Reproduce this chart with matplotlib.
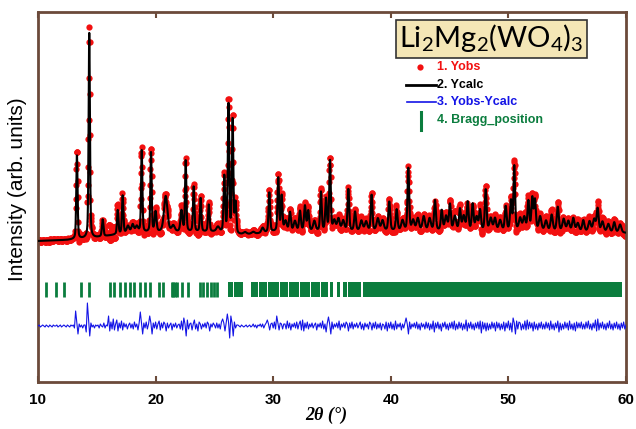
import numpy as np
import matplotlib.pyplot as plt
from matplotlib.lines import Line2D
from matplotlib.patches import Rectangle

plt.rcParams['mathtext.fontset'] = 'custom'
plt.rcParams['mathtext.rm'] = 'Lato'

# reflections of the calculated pattern: position (deg), height (counts), fwhm (deg)
peak_pos = [13.31, 14.36, 15.50, 16.78, 17.20, 17.65, 18.05, 18.40, 18.82, 19.61,
            20.00, 20.86, 21.50, 22.20, 22.56, 23.24, 23.83, 24.52, 25.30, 25.84,
            26.20, 26.55, 26.80, 27.60, 28.30, 29.10, 29.67, 30.43, 30.72, 31.05,
            31.43, 31.85, 32.28, 32.70, 32.98, 33.50, 34.06, 34.49, 34.83, 35.20,
            35.55, 35.95, 36.39, 36.96, 37.50, 37.90, 38.37, 38.90, 39.30, 39.87,
            40.50, 41.00, 41.49, 41.90, 42.30, 42.80, 43.30, 43.76, 44.33, 44.70,
            45.03, 45.45, 45.88, 46.20, 46.54, 46.96, 47.30, 47.59, 48.07, 48.50,
            48.86, 49.30, 49.77, 50.22, 50.50, 51.00, 51.35, 51.70, 52.03, 52.26,
            52.70, 53.20, 53.68, 54.20, 54.70, 55.10, 55.52, 55.90, 56.37, 56.90,
            57.30, 57.59, 58.00, 58.50, 59.00, 59.50]
peak_height = [1700, 4100, 340, 480, 760, 140, 160, 120, 1640, 1620,
               400, 720, 120, 420, 1420, 900, 680, 540, 100, 1120,
               2560, 2300, 600, 40, 40, 100, 800, 1080, 700, 200,
               380, 200, 400, 500, 400, 200, 780, 640, 1420, 200,
               240, 200, 840, 380, 200, 180, 720, 240, 200, 580,
               420, 200, 1260, 200, 240, 280, 240, 600, 400, 280,
               520, 280, 420, 280, 560, 520, 260, 400, 820, 240,
               240, 200, 480, 580, 1280, 240, 260, 580, 640, 600,
               280, 200, 320, 480, 240, 200, 260, 160, 220, 200,
               240, 460, 200, 160, 200, 160]
peak_fwhm = [0.13, 0.13, 0.15, 0.14, 0.14, 0.25, 0.25, 0.25, 0.13, 0.13,
             0.18, 0.35, 0.30, 0.20, 0.13, 0.14, 0.14, 0.15, 0.30, 0.15,
             0.14, 0.14, 0.15, 0.30, 0.30, 0.25, 0.15, 0.15, 0.15, 0.25,
             0.18, 0.25, 0.18, 0.18, 0.18, 0.25, 0.16, 0.16, 0.15, 0.25,
             0.25, 0.25, 0.16, 0.18, 0.25, 0.25, 0.16, 0.25, 0.25, 0.18,
             0.18, 0.25, 0.16, 0.25, 0.25, 0.25, 0.25, 0.18, 0.18, 0.25,
             0.18, 0.25, 0.18, 0.25, 0.18, 0.18, 0.25, 0.18, 0.17, 0.25,
             0.22, 0.25, 0.18, 0.18, 0.16, 0.25, 0.25, 0.18, 0.18, 0.18,
             0.25, 0.25, 0.22, 0.20, 0.25, 0.25, 0.22, 0.25, 0.22, 0.25,
             0.25, 0.20, 0.25, 0.25, 0.22, 0.25]

# background knots (deg, counts)
bg_2theta = [10, 12.5, 15, 16.5, 18, 20, 25, 26.9, 28.5, 30, 40, 50, 57, 60]
bg_counts = [80, 100, 150, 200, 240, 250, 260, 200, 220, 260, 280, 280, 260, 240]

# Yobs - Ycalc, one value every 0.1 deg from 10.0 to 60.0
diff_counts = [
    0, 20, -20, 0, 20, 0, -20, 20, 0, -20,                # 10
    20, 0, -20, 20, 0, 0, 20, -20, 0, 20,                 # 11
    -20, 0, 20, 0, -20, 20, 0, -20, 20, 0,                # 12
    20, -40, 300, 60, -160, 40, -20, 20, -40, 20,         # 13
    20, -120, 460, 120, -200, 60, -20, 20, -40, 20,       # 14
    0, 20, -40, 40, 0, -20, 60, -40, 20, 0,               # 15
    200, -100, 80, -60, 140, -80, 40, 120, -100, 60,      # 16
    -40, 100, -80, 60, -20, 40, -60, 20, 60, -40,         # 17
    40, -60, 80, -20, 40, -80, 60, 280, 60, -160,         # 18
    60, -40, 80, -60, 40, 200, 60, -160, 60, -40,         # 19
    80, -60, 40, 100, -80, 60, -40, 80, 40, -100,         # 20
    60, -40, 20, 60, -80, 40, -20, 60, -40, 20,           # 21
    40, -60, 100, -80, 160, 40, -200, 120, -60, 40,       # 22
    60, -80, 40, 120, -60, 40, -100, 80, 40, -60,         # 23
    40, -20, 60, -40, 80, 40, -100, 40, -20, 60,          # 24
    20, -40, 60, -40, 40, -60, 80, 140, 60, -100,         # 25
    60, 240, 80, -240, 200, 60, -200, 80, -40, 20,        # 26
    20, 0, -20, 20, 0, -20, 0, 20, -20, 0,                # 27
    20, -20, 0, 40, -20, 20, -40, 20, 0, 40,              # 28
    -20, 40, -40, 20, 60, 120, 40, -80, 40, 60,           # 29
    -40, 80, -60, 200, 60, -80, 60, 40, -60, 40,          # 30
    40, -60, 100, -40, 60, -80, 40, -20, 60, -40,         # 31
    80, -60, 40, 100, -80, 120, -100, 60, -40, 80,        # 32
    -60, 40, -20, 60, -40, 20, 60, -80, 40, -20,          # 33
    60, -40, 100, -60, 40, -120, 60, 180, 40, -160,       # 34
    80, -60, 40, -20, 60, -40, 100, -80, 40, -20,         # 35
    60, -40, 80, 40, -100, 60, -40, 80, -60, 40,          # 36
    -20, 60, -40, 20, 80, -60, 40, -80, 60, -20,          # 37
    40, -60, 80, 40, -80, 60, -40, 80, -60, 40,           # 38
    -40, 60, -80, 40, 20, -60, 80, -100, 60, -40,         # 39
    80, -60, 40, -80, 100, -60, 40, -20, 60, -80,         # 40
    40, -40, 60, 160, 40, -160, 80, -60, 40, -20,         # 41
    60, -40, 80, -60, 40, -80, 60, -20, 40, -60,          # 42
    80, -40, 60, -80, 40, -60, 100, -120, 60, -40,        # 43
    80, -60, 40, -100, 60, -20, 80, -60, 40, -80,         # 44
    60, -40, 80, -60, 100, -80, 40, -60, 80, -40,         # 45
    60, -80, 40, -60, 120, -100, 60, -40, 80, -60,        # 46
    40, -80, 60, -40, 80, -60, 100, -140, 80, -60,        # 47
    60, -100, 60, -80, 40, -60, 80, -40, 60, -100,        # 48
    80, -40, 60, -80, 40, -60, 80, -100, 60, -40,         # 49
    100, -80, 60, -120, 160, 60, -160, 100, -60, 80,      # 50
    60, -80, 40, -60, 100, -80, 120, -60, 80, -40,        # 51
    60, -100, 80, -60, 40, -80, 60, -40, 80, -60,         # 52
    40, -60, 80, -40, 60, -80, 100, -60, 40, -80,         # 53
    60, -40, 100, -120, 60, -80, 40, -60, 80, -40,        # 54
    60, -80, 100, -60, 40, -80, 60, -100, 80, -40,        # 55
    60, -40, 80, -60, 40, -60, 80, -40, 100, -60,         # 56
    40, -80, 60, -40, 120, -100, 140, -80, 60, -40,       # 57
    80, -60, 40, -80, 60, -40, 100, -60, 40, -80,         # 58
    60, -40, 80, -60, 40, -80, 60, -40, 80, -60,          # 59
    20,                                                   # 60
]
diff_offset = -1620

# Bragg reflections: single markers and runs of overlapping ones (start, end)
bragg_pos = [10.68, 11.50, 12.24, 13.63, 14.34, 16.12, 16.46, 16.97, 17.40, 17.82,
             18.16, 18.67, 19.10, 19.52, 20.29, 20.66, 21.40, 21.52, 21.64, 21.78,
             22.22, 22.78, 23.78, 24.06, 24.35, 24.70, 24.99, 25.25]
bragg_runs = [(26.15, 26.60), (26.68, 27.45), (28.15, 28.70), (28.78, 29.45),
              (29.60, 30.50), (30.58, 31.30), (31.38, 32.20), (32.28, 33.10),
              (33.18, 34.00), (34.08, 34.70), (34.80, 35.10), (35.40, 35.70),
              (35.90, 36.25), (36.40, 37.50), (37.65, 59.65)]
bragg_lo, bragg_hi = -1030, -740

brown = '#6b4a3a'
red = '#f21010'
blue = '#1414e6'
green = '#0b7d3e'


def pseudo_voigt(x, x0, fwhm, eta=0.4):
    u = (x - x0) / fwhm
    return eta / (1 + 4 * u ** 2) + (1 - eta) * np.exp(-4 * np.log(2) * u ** 2)


tt_step = np.arange(10, 60.001, 0.1)
tt = np.round(np.arange(10, 60.001, 0.02), 2)
ycalc = np.interp(tt, bg_2theta, bg_counts)
for p, h, w in zip(peak_pos, peak_height, peak_fwhm):
    ycalc += h * pseudo_voigt(tt, p, w)
diff = np.array(diff_counts, dtype=float)
yobs = ycalc + np.append(np.repeat(diff[:-1], 5), diff[-1])

W, H = 636, 429
fig = plt.figure(figsize=(W / 100, H / 100), dpi=100)
ax = fig.add_axes([38 / W, 1 - 382 / H, 588 / W, 370 / H])

ax.plot(tt, yobs, 'o', color=red, ms=4.5, mew=0, zorder=2)
ax.plot(tt, ycalc, color='black', lw=1.5, zorder=3)
ax.plot(tt_step, diff + diff_offset, color=blue, lw=0.8, zorder=3)
ax.vlines(bragg_pos, bragg_lo, bragg_hi, color=green, lw=2.0)
ax.broken_barh([(a, b - a) for a, b in bragg_runs], (bragg_lo, bragg_hi - bragg_lo),
               color=green, lw=0)

ax.set_xlim(10, 60)
ax.set_ylim(-2740, 4660)
ax.set_xticks([10, 20, 30, 40, 50, 60])
ax.set_yticks([])
ax.tick_params(axis='x', direction='in', top=True, length=4, width=1.5,
               color=brown, labelsize=11, pad=8)
for lbl in ax.get_xticklabels():
    lbl.set_fontweight('bold')
    lbl.set_family('Liberation Sans')
for s in ax.spines.values():
    s.set_color(brown)
    s.set_linewidth(2.0)


def fxy(px, py):
    return px / W, 1 - py / H


fig.text(*fxy(18, 189), 'Intensity (arb. units)', rotation=90, ha='center', va='center',
         fontsize=15, family='Liberation Sans')
fig.text(*fxy(326, 415), '2θ (°)', ha='center', va='center', fontsize=13,
         family='Liberation Serif', style='italic', weight='bold')

# formula box
fig.add_artist(Rectangle(fxy(396, 58), 191 / W, 38 / H, transform=fig.transFigure,
                         fc='#f4e6b6', ec='#333333', lw=1.2))
fig.text(*fxy(491, 47), r'$\mathrm{Li_2Mg_2(WO_4)_3}$', ha='center', va='baseline',
         fontsize=21)

# legend
fig.add_artist(Line2D([420 / W], [1 - 67 / H], marker='o', color=red, ms=4.5, mew=0,
                      transform=fig.transFigure))
fig.add_artist(Line2D([406 / W, 436 / W], [1 - 85 / H] * 2, color='black', lw=2,
                      transform=fig.transFigure))
fig.add_artist(Line2D([407 / W, 436 / W], [1 - 102 / H] * 2, color=blue, lw=1.2,
                      transform=fig.transFigure))
fig.add_artist(Line2D([421 / W] * 2, [1 - 112 / H, 1 - 130 / H], color=green, lw=2.2,
                      transform=fig.transFigure))
legend_rows = [('1. Yobs', red, 67), ('2. Ycalc', 'black', 85),
               ('3. Yobs-Ycalc', blue, 102), ('4. Bragg_position', green, 120)]
for txt, col, py in legend_rows:
    fig.text(*fxy(437, py), txt, color=col, ha='left', va='center', fontsize=9,
             weight='bold', family='Liberation Sans')

fig.savefig('out.png', dpi=100)
